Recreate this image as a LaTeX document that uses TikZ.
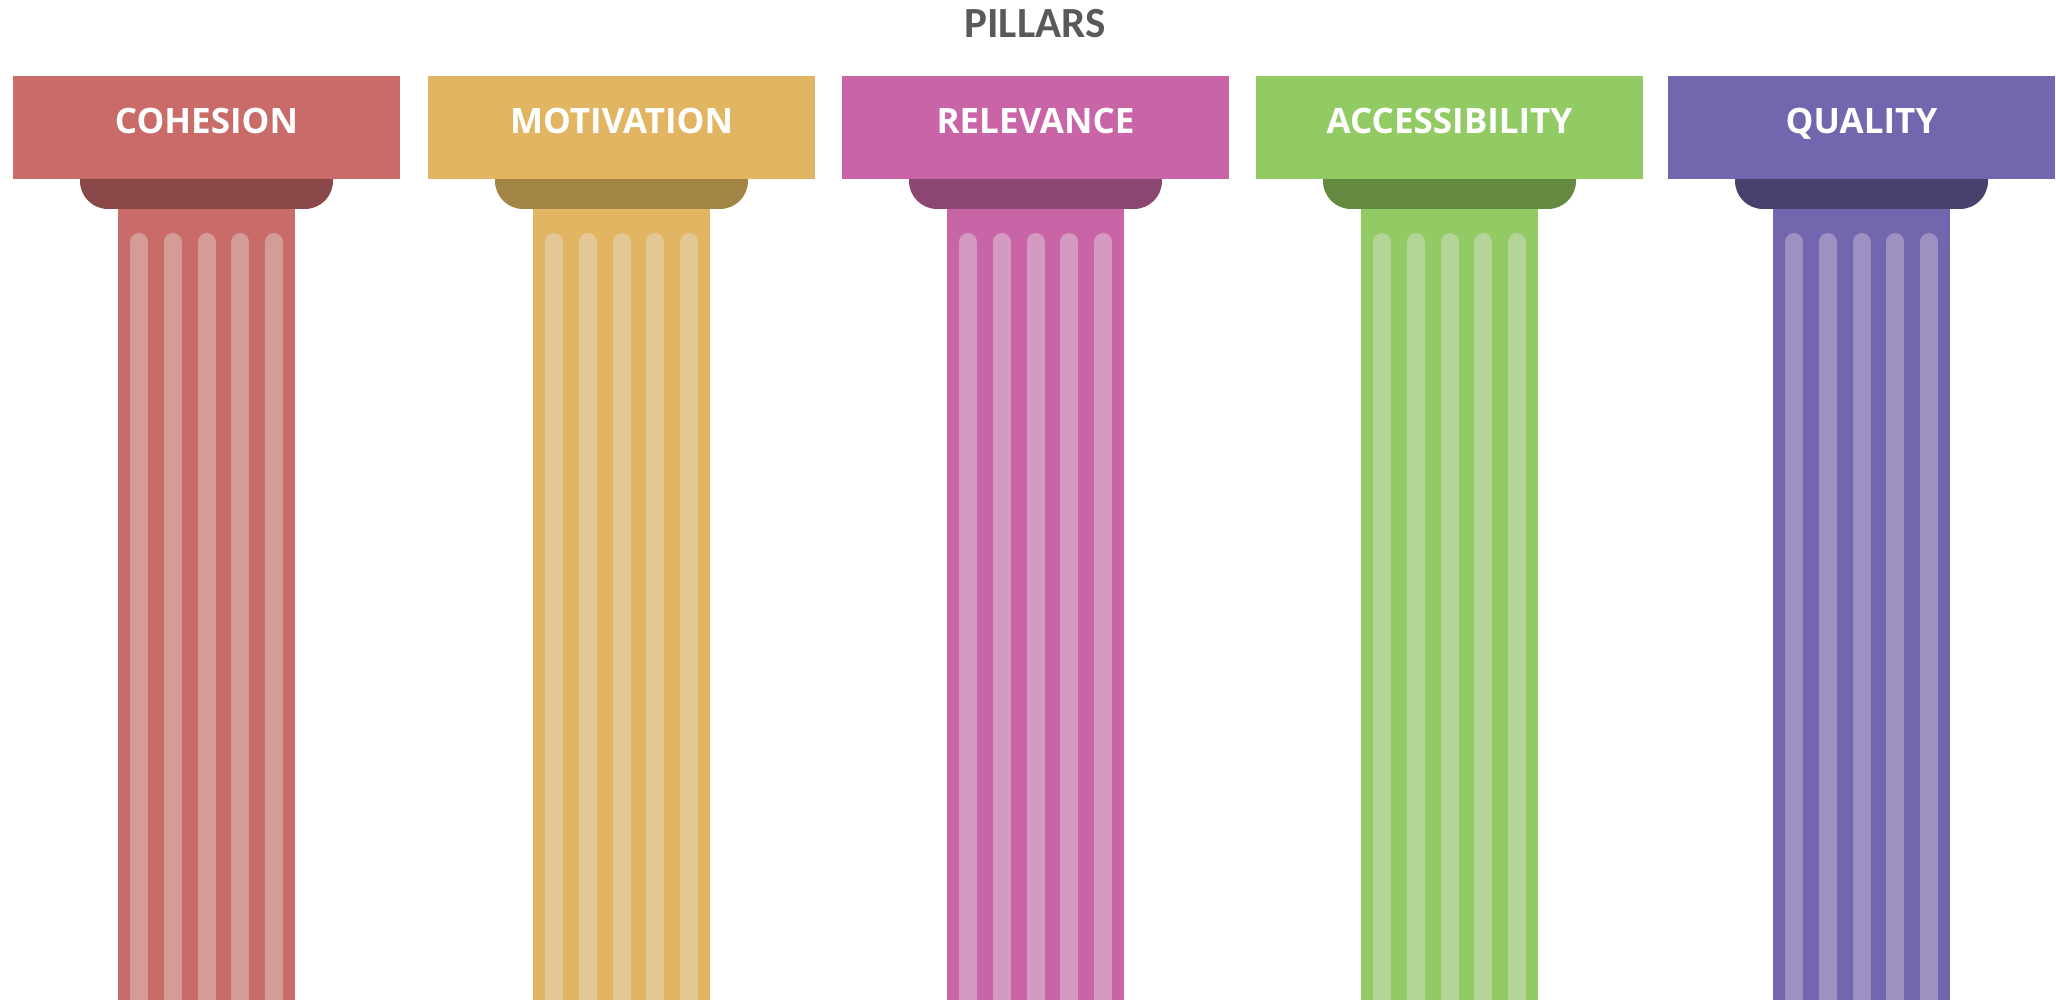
\documentclass[tikz,border=0pt]{standalone}
\usepackage{fontspec}
\setmainfont{Open Sans}
\newfontfamily\titlefont{Carlito}
\usepackage{tikz}
\usetikzlibrary{positioning}

\definecolor{CohRed}{HTML}{C96B69}
\definecolor{CohDark}{HTML}{8B4849}
\definecolor{CohFlute}{HTML}{D49C96}
\definecolor{MotYellow}{HTML}{E1B562}
\definecolor{MotDark}{HTML}{A28445}
\definecolor{MotFlute}{HTML}{E3C895}
\definecolor{RelPink}{HTML}{C965A6}
\definecolor{RelDark}{HTML}{8C4672}
\definecolor{RelFlute}{HTML}{D49AC1}
\definecolor{AccGreen}{HTML}{92CB63}
\definecolor{AccDark}{HTML}{648A42}
\definecolor{AccFlute}{HTML}{B5D498}
\definecolor{QuaPurple}{HTML}{7466AE}
\definecolor{QuaDark}{HTML}{4A406D}
\definecolor{QuaFlute}{HTML}{9D91C1}
\definecolor{TitleGray}{HTML}{595959}

\begin{document}
\begin{tikzpicture}[x=0.5pt, y=-0.5pt]
			\tikzstyle{Header}	= [rectangle, inner sep=0pt, minimum width=193.5pt, minimum height=51.5pt]
			\tikzstyle{Label}	= [anchor=base, inner sep=0pt, text=white, font=\fontsize{17.5}{20}\selectfont\bfseries]
			\tikzstyle{Title}	= [anchor=base, inner sep=0pt, text=TitleGray, font=\titlefont\fontsize{21.5}{25}\selectfont\bfseries]
			\tikzstyle{Flute}	= [line width=9pt, line cap=round]
			
			\useasboundingbox (0,0) rectangle (2056,1000);
			
			\node (title) at (1035,38) [Title] {PILLARS};
			
			% cohesion
			\fill[CohRed] (118,200) rectangle (295,1000);
			\foreach \x in {139, 172.75, 206.5, 240.25, 274}
				\draw[Flute, CohFlute] (\x,242) -- (\x,1010);
			\fill[CohDark] (80,175) [rounded corners=14pt] -- (80,209) -- (333,209) [sharp corners] -- (333,175) -- cycle;
			\node (h1) at (206.5,127.5) [Header, fill=CohRed] {};
			\node (t1) at (206.5,134) [Label] {COHESION};
			
			% motivation
			\fill[MotYellow] (533,200) rectangle (710,1000);
			\foreach \x in {554, 587.75, 621.5, 655.25, 689}
				\draw[Flute, MotFlute] (\x,242) -- (\x,1010);
			\fill[MotDark] (495,175) [rounded corners=14pt] -- (495,209) -- (748,209) [sharp corners] -- (748,175) -- cycle;
			\node (h2) at (621.5,127.5) [Header, fill=MotYellow] {};
			\node (t2) at (621.5,134) [Label] {MOTIVATION};
			
			% relevance
			\fill[RelPink] (947,200) rectangle (1124,1000);
			\foreach \x in {968, 1001.75, 1035.5, 1069.25, 1103}
				\draw[Flute, RelFlute] (\x,242) -- (\x,1010);
			\fill[RelDark] (909,175) [rounded corners=14pt] -- (909,209) -- (1162,209) [sharp corners] -- (1162,175) -- cycle;
			\node (h3) at (1035.5,127.5) [Header, fill=RelPink] {};
			\node (t3) at (1035.5,134) [Label] {RELEVANCE};
			
			% accessibility
			\fill[AccGreen] (1361,200) rectangle (1538,1000);
			\foreach \x in {1382, 1415.75, 1449.5, 1483.25, 1517}
				\draw[Flute, AccFlute] (\x,242) -- (\x,1010);
			\fill[AccDark] (1323,175) [rounded corners=14pt] -- (1323,209) -- (1576,209) [sharp corners] -- (1576,175) -- cycle;
			\node (h4) at (1449.5,127.5) [Header, fill=AccGreen] {};
			\node (t4) at (1449.5,134) [Label] {ACCESSIBILITY};
			
			% quality
			\fill[QuaPurple] (1773,200) rectangle (1950,1000);
			\foreach \x in {1794, 1827.75, 1861.5, 1895.25, 1929}
				\draw[Flute, QuaFlute] (\x,242) -- (\x,1010);
			\fill[QuaDark] (1735,175) [rounded corners=14pt] -- (1735,209) -- (1988,209) [sharp corners] -- (1988,175) -- cycle;
			\node (h5) at (1861.5,127.5) [Header, fill=QuaPurple] {};
			\node (t5) at (1861.5,134) [Label] {QUALITY};
		\end{tikzpicture}
\end{document}
